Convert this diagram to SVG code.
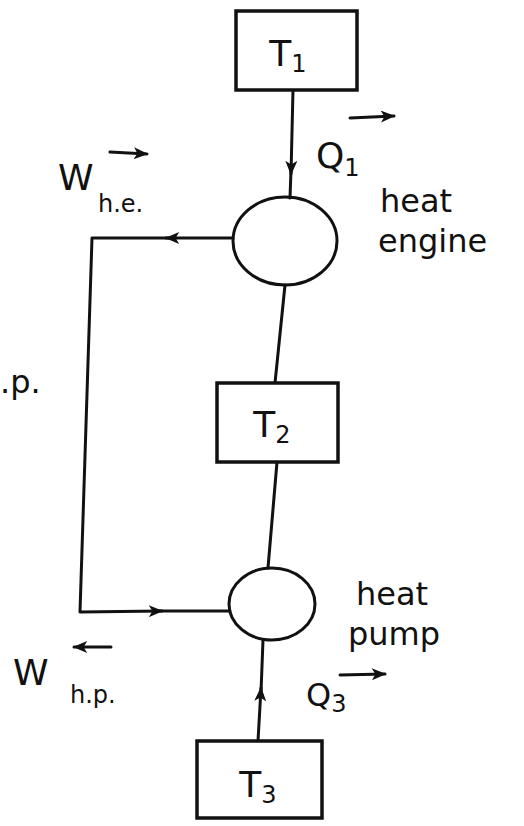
<svg xmlns="http://www.w3.org/2000/svg" width="524" height="826" viewBox="0 0 524 826">
<defs>
<marker id="ah" viewBox="0 0 12 10" refX="11" refY="5" markerWidth="15" markerHeight="12" markerUnits="userSpaceOnUse" orient="auto">
<path d="M0,0 L12,5 L0,10 L3,5 Z" fill="#111"/>
</marker>
<style>
.ln{stroke:#111;stroke-width:3;fill:none;stroke-linecap:round;stroke-linejoin:round}
.bx{stroke:#111;stroke-width:3.5;fill:#fff}
.t{font-family:"DejaVu Sans","Liberation Sans",sans-serif;fill:#111}
.big{font-size:36px}
.lab{font-size:32px}
.sub{font-size:24px}
</style>
</defs>
<rect width="524" height="826" fill="#fff"/>
<g id="connectors">
<path class="ln" d="M293,90 L291,174" marker-end="url(#ah)"/>
<path class="ln" d="M291,170 L290,198"/>
<path class="ln" d="M285,285 L275,383"/>
<path class="ln" d="M277,462 L268,568"/>
<path class="ln" d="M258,741 L261,688" marker-end="url(#ah)"/>
<path class="ln" d="M261,692 L263,640"/>
<path class="ln" d="M233,238 L166,238" marker-end="url(#ah)"/>
<path class="ln" d="M170,238 L92,238 L80,612 L162,611" marker-end="url(#ah)"/>
<path class="ln" d="M158,611 L230,611"/>
<path class="ln" d="M350,118 L394,116" marker-end="url(#ah)"/>
<path class="ln" d="M110,152 L147,154" marker-end="url(#ah)"/>
<path class="ln" d="M111,647 L74,647" marker-end="url(#ah)"/>
<path class="ln" d="M340,675 L385,674" marker-end="url(#ah)"/>
</g>
<g id="T1">
<rect class="bx" x="236" y="11" width="121" height="79"/>
<text class="t big" x="288" y="66" text-anchor="middle">T<tspan class="sub" dy="6">1</tspan></text>
</g>
<g id="heat-engine">
<ellipse class="ln" cx="285" cy="241" rx="52" ry="44"/>
<text class="t lab" x="380" y="212">heat</text>
<text class="t lab" x="378" y="252">engine</text>
</g>
<g id="T2">
<rect class="bx" x="217" y="383" width="121" height="79"/>
<text class="t big" x="272" y="437" text-anchor="middle">T<tspan class="sub" dy="6">2</tspan></text>
</g>
<g id="heat-pump">
<ellipse class="ln" cx="272" cy="604" rx="43" ry="36"/>
<text class="t lab" x="356" y="605">heat</text>
<text class="t lab" x="348" y="645">pump</text>
</g>
<g id="T3">
<rect class="bx" x="197" y="741" width="125" height="77"/>
<text class="t big" x="258" y="797" text-anchor="middle">T<tspan class="sub" dy="6">3</tspan></text>
</g>
<g id="labels">
<text class="t big" x="316" y="168">Q<tspan class="sub" dy="8">1</tspan></text>
<text class="t big" x="58" y="190">W</text>
<text class="t sub" x="98" y="212">h.e.</text>
<text class="t lab" x="0" y="393">.p.</text>
<text class="t big" x="13" y="685">W</text>
<text class="t sub" x="70" y="703">h.p.</text>
<text class="t lab" x="306" y="706">Q<tspan class="sub" dy="6">3</tspan></text>
</g>
</svg>
